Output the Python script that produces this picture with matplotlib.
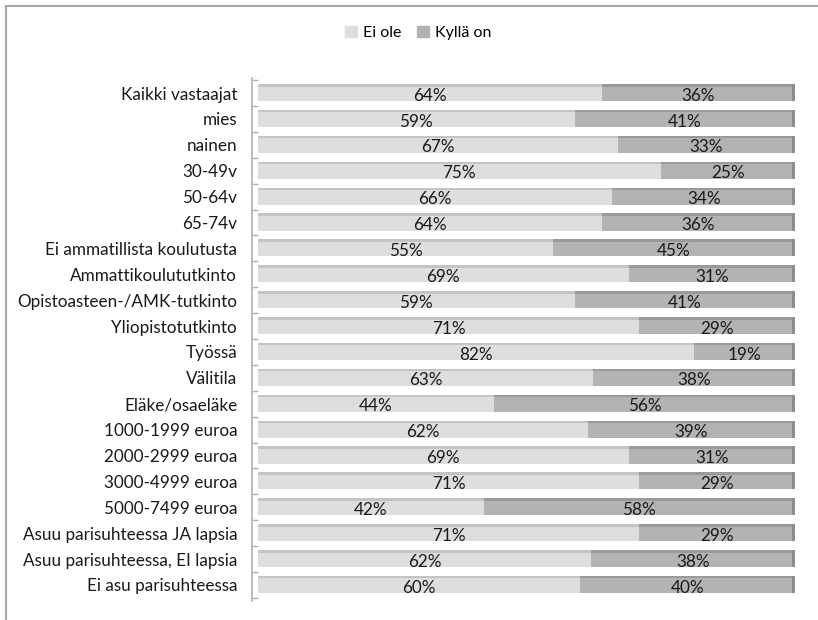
import matplotlib.pyplot as plt
import numpy as np
from matplotlib.lines import Line2D
from matplotlib.patches import Rectangle

plt.rcParams["font.family"] = ["Lato", "DejaVu Sans"]

# Ryhmat ylhaalta alas
categories = [
    "Kaikki vastaajat", "mies", "nainen", "30-49v", "50-64v", "65-74v",
    "Ei ammatillista koulutusta", "Ammattikoulututkinto",
    "Opistoasteen-/AMK-tutkinto", "Yliopistotutkinto", "Työssä", "Välitila",
    "Eläke/osaeläke", "1000-1999 euroa", "2000-2999 euroa", "3000-4999 euroa",
    "5000-7499 euroa", "Asuu parisuhteessa JA lapsia",
    "Asuu parisuhteessa, EI lapsia", "Ei asu parisuhteessa",
]
ei_ole = [64, 59, 67, 75, 66, 64, 55, 69, 59, 71, 82, 63, 44, 62, 69, 71, 42, 71, 62, 60]
kylla_on = [36, 41, 33, 25, 34, 36, 45, 31, 41, 29, 19, 38, 56, 39, 31, 29, 58, 29, 38, 40]

C_EI = "#dedede"
C_EI_TOP = "#c4c4c4"
C_KY = "#b3b3b3"
C_KY_TOP = "#9a9a9a"
C_CAP = "#8c8c8c"
FS = 12.3

fig = plt.figure(figsize=(8.18, 6.2), dpi=100)
ax = fig.add_axes([258 / 818, 1 - 600.5 / 620, 537 / 818, 523 / 620])

ei = np.array(ei_ole, dtype=float)
ky = np.array(kylla_on, dtype=float)
tot = ei + ky
ei_p = ei / tot * 100
ky_p = ky / tot * 100
y = np.arange(len(categories))

h = 0.56
top = 0.1
ax.barh(y + 0.03, ei_p, height=h, color=C_EI, linewidth=0)
ax.barh(y + 0.03, ky_p, left=ei_p, height=h, color=C_KY, linewidth=0)
# "3D" ylareuna ja paaty
ax.barh(y - h / 2 - top / 2 + 0.03, ei_p, height=top, color=C_EI_TOP, linewidth=0)
ax.barh(y - h / 2 - top / 2 + 0.03, ky_p, left=ei_p, height=top, color=C_KY_TOP, linewidth=0)
for yi in y:
    ax.add_patch(Rectangle((99.4, yi - h / 2 - top + 0.03), 0.6, h + top,
                           color=C_CAP, linewidth=0))

for yi, a, b, pa, pb in zip(y, ei_ole, kylla_on, ei_p, ky_p):
    ax.text(pa / 2, yi + 0.1, f"{a}%", ha="center", va="center",
            fontsize=FS, color="#1a1a1a")
    ax.text(pa + pb / 2, yi + 0.1, f"{b}%", ha="center", va="center",
            fontsize=FS, color="#1a1a1a")

ax.set_xlim(0, 100)
ax.set_ylim(len(categories) - 1 + 0.6, -0.6)
ax.set_yticks(y)
ax.set_yticklabels(categories)
ax.set_yticks(np.arange(len(categories) + 1) - 0.5, minor=True)
ax.tick_params(axis="y", which="major", length=0, pad=11,
               labelsize=FS, labelcolor="#1a1a1a")
ax.tick_params(axis="y", which="minor", direction="in", length=4,
               color="#b0b0b0", width=1)
ax.set_xticks([])
for s in ["top", "right", "bottom"]:
    ax.spines[s].set_visible(False)
ax.spines["left"].set_position(("outward", 4))
ax.spines["left"].set_color("#b0b0b0")
ax.spines["left"].set_linewidth(1.2)

handles = [Rectangle((0, 0), 1, 1, color=C_EI), Rectangle((0, 0), 1, 1, color=C_KY)]
fig.legend(handles, ["Ei ole", "Kyllä on"], loc="center", ncol=2,
           bbox_to_anchor=(418 / 818, 1 - 33 / 620), frameon=False,
           fontsize=11.5, handlelength=0.75, handleheight=0.75,
           handletextpad=0.35, columnspacing=1.0)

# kehys vasemmalla ja ylhaalla
fig.add_artist(Line2D([6 / 818, 6 / 818], [0, 1 - 6 / 620], color="#a8a8a8", lw=1.5))
fig.add_artist(Line2D([6 / 818, 1], [1 - 6 / 620, 1 - 6 / 620], color="#a8a8a8", lw=1.5))

fig.savefig("out.png", dpi=100)
